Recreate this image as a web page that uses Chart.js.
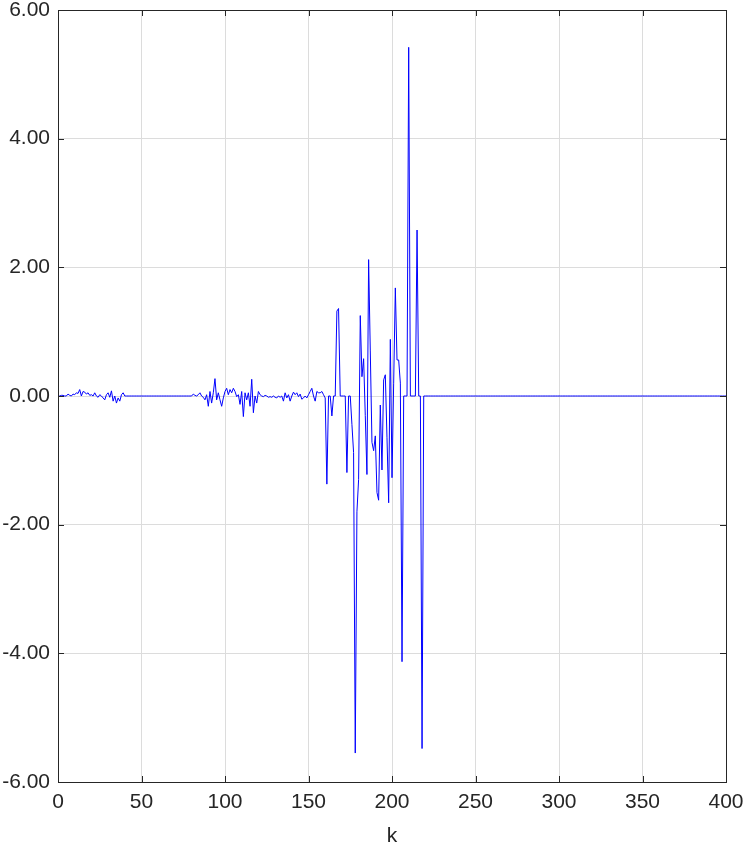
<!DOCTYPE html>
<html>

<head>
  <title>k response</title>
  <script src="https://cdn.jsdelivr.net/npm/chart.js"></script>
  <style>
    html, body { margin: 0; padding: 0; background: #fff; }
  </style>
</head>

<body>
  <canvas id="kChart" width="746" height="846"></canvas>

  <script>
    // values, one per k
    const kMax = 400;
    const smallNoise = [ // k = 0..40
      0, 0, 0.01, 0.01, 0, 0, 0.03, 0.01, 0, 0.03,
      0.02, 0.05, 0.04, 0.1, 0, 0.07, 0.06, 0.03, 0.05, 0.01,
      0.02, 0, 0.05, 0, -0.02, 0.02, 0, -0.03, -0.06, 0.02,
      0.05, -0.02, 0.08, -0.08, 0, -0.11, -0.03, -0.08, 0.02, 0.05,
      0
    ];
    const midNoiseStart = 80;
    const midNoise = [ // k = 80..160
      0, 0.03, 0.01, 0, 0.02, 0.05, 0, -0.02, -0.06, 0.02,
      -0.16, 0.07, -0.11, 0.05, 0.27, -0.06, 0.05, -0.06, -0.16, -0.03,
      0.07, 0.12, 0.02, 0.1, 0.05, 0.12, 0.07, -0.01, 0.02, -0.13,
      0.07, -0.32, 0.05, -0.06, 0.05, -0.16, 0.26, -0.26, 0, -0.11,
      0.07, 0.02, 0, -0.01, 0.01, 0, -0.02, -0.01, -0.02, 0,
      -0.02, -0.03, 0, -0.02, 0, -0.08, 0.05, -0.03, 0.02, -0.08,
      0, 0.06, 0.02, 0.05, -0.01, 0.03, -0.05, -0.03, 0, -0.03,
      0.02, 0.07, 0.12, 0, -0.08, 0.07, 0.05, 0.05, 0.07, 0.02,
      -0.03
    ];
    const burstStart = 161;
    const burst = [ // k = 161..219
      -1.37, 0, 0, -0.31, 0, 0, 1.32, 1.36, 0, 0,
      0, 0, -1.19, 0, 0, -0.44, -0.88, -5.55, -1.8, -1.3,
      1.25, 0.3, 0.58, -0.3, -1.22, 2.12, 0.7, -0.72, -0.85, -0.62,
      -1.5, -1.62, -0.14, -1.15, 0.25, 0.33, -0.65, -1.66, 0.88, -1.27,
      0.2, 1.68, 0.56, 0.56, 0.2, -4.13, 0, 0, 0, 5.42,
      0, 0, 0, 0, 2.58, 0, 0, -5.48, 0
    ];
    const xTicks = [0, 50, 100, 150, 200, 250, 300, 350, 400];
    const yTicks = [-6, -4, -2, 0, 2, 4, 6];

    // full series: zero except where the recorded stretches are
    const series = [];
    for (let k = 0; k <= kMax; k++) series.push({ x: k, y: 0 });
    smallNoise.forEach((v, i) => { series[i].y = v; });
    midNoise.forEach((v, i) => { series[midNoiseStart + i].y = v; });
    burst.forEach((v, i) => { series[burstStart + i].y = v; });

    const textColor = '#262626';
    const fontFamily = '"Liberation Sans", Arial, sans-serif';
    const fontSize = 21;

    // box round the plot area with inward tick marks
    const framePlugin = {
      id: 'frame',
      afterDatasetsDraw(chart) {
        const { ctx, chartArea: a, scales: { x, y } } = chart;
        const len = 6;
        ctx.save();
        ctx.strokeStyle = textColor;
        ctx.lineWidth = 1;
        ctx.beginPath();
        x.ticks.forEach(t => {
          const px = Math.round(x.getPixelForValue(t.value)) + 0.5;
          ctx.moveTo(px, a.bottom); ctx.lineTo(px, a.bottom - len);
          ctx.moveTo(px, a.top); ctx.lineTo(px, a.top + len);
        });
        y.ticks.forEach(t => {
          const py = Math.round(y.getPixelForValue(t.value)) + 0.5;
          ctx.moveTo(a.left, py); ctx.lineTo(a.left + len, py);
          ctx.moveTo(a.right, py); ctx.lineTo(a.right - len, py);
        });
        ctx.stroke();
        ctx.strokeRect(Math.round(a.left) + 0.5, Math.round(a.top) + 0.5,
          Math.round(a.right - a.left), Math.round(a.bottom - a.top));
        ctx.restore();
      }
    };

    const ctx = document.getElementById('kChart').getContext('2d');
    const kChart = new Chart(ctx, {
      type: 'line',
      data: {
        datasets: [
          {
            label: 'signal',
            data: series,
            borderColor: '#0000ff',
            borderWidth: 1,
            pointRadius: 0,
            tension: 0,
            fill: false,
          }
        ]
      },
      options: {
        responsive: false,
        animation: false,
        layout: { padding: { top: 10, right: 20, left: 0, bottom: 0 } },
        plugins: {
          legend: { display: false },
          tooltip: { enabled: false },
        },
        scales: {
          x: {
            type: 'linear',
            min: 0,
            max: kMax,
            afterBuildTicks: s => { s.ticks = xTicks.map(v => ({ value: v })); },
            afterFit: s => {
              s.height = 64;
              s.paddingLeft = 0;
              s.paddingRight = 0;
            },
            grid: { color: '#dcdcdc', drawTicks: false },
            border: { display: false },
            ticks: {
              color: textColor,
              font: { family: fontFamily, size: fontSize },
              padding: 8,
              maxRotation: 0,
            },
            title: {
              display: true,
              text: 'k',
              color: textColor,
              font: { family: fontFamily, size: fontSize },
              padding: { top: 2, bottom: -3 },
            },
          },
          y: {
            min: -6,
            max: 6,
            afterBuildTicks: s => { s.ticks = yTicks.map(v => ({ value: v })); },
            afterFit: s => {
              s.width = 58;
              s.paddingTop = 0;
              s.paddingBottom = 0;
            },
            grid: { color: '#dcdcdc', drawTicks: false },
            border: { display: false },
            ticks: {
              color: textColor,
              font: { family: fontFamily, size: fontSize },
              padding: 8,
              callback: v => Number(v).toFixed(2),
            },
          },
        },
      },
      plugins: [framePlugin],
    });
  </script>
</body>

</html>
